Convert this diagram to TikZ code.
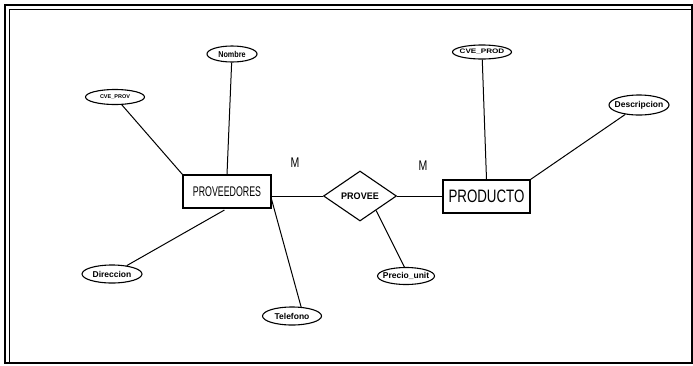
\documentclass[tikz,border=0pt]{standalone}
\usepackage{fontspec}
\setmainfont{Liberation Sans}
\usetikzlibrary{shapes.geometric}
% squeeze or widen a text horizontally
\newcommand\hsq[2]{\scalebox{#1}[1]{#2}}
% attribute label with no width of its own, so the ellipse size is set by its style
\newcommand\attlabel[3]{\makebox[0pt]{\fontsize{#1}{#1}\selectfont\hsq{#2}{#3}}}

\begin{document}
\begin{tikzpicture}[x=1pt,y=-1pt,
  entity/.style={draw, rectangle, inner sep=0pt, line width=1.1pt},
  attr/.style={draw, ellipse, inner sep=0pt, line width=1.1pt, font=\bfseries},
  rel/.style={draw, diamond, inner sep=0pt, line width=1.1pt, font=\bfseries},
  link/.style={line width=1pt},
  card/.style={inner sep=0pt, font=\fontsize{14}{14}\selectfont}]
\useasboundingbox (0,0) rectangle (693,365);

% page frame with a double rule on the top and left sides
\draw[line width=1.2pt] (5,5) rectangle (692,363);
\draw[line width=0.8pt] (9,363) -- (9,9) -- (692,9);

% entities
\node[entity, minimum width=88pt, minimum height=33pt] (prov) at (227,191.5)
  {\fontsize{14}{14}\selectfont\hsq{0.63}{PROVEEDORES}};
\node[entity, minimum width=87pt, minimum height=33pt] (prod) at (486.5,196.5)
  {\fontsize{18}{18}\selectfont\hsq{0.74}{PRODUCTO}};

% relationship
\node[rel, minimum width=73pt, minimum height=50pt, aspect=1.46] (provee) at (360,196)
  {\fontsize{9.5}{9.5}\selectfont\hsq{0.95}{PROVEE}};

% attributes
\node[attr, minimum width=50pt, minimum height=16pt] (nombre) at (232,54)
  {\attlabel{8.5}{0.85}{Nombre}};
\node[attr, minimum width=59pt, minimum height=15pt] (cveprov) at (115,97)
  {\attlabel{5.5}{1}{CVE\_PROV}};
\node[attr, minimum width=60pt, minimum height=18pt] (direccion) at (112,274)
  {\attlabel{8.5}{1}{Direccion}};
\node[attr, minimum width=59pt, minimum height=18pt] (telefono) at (292,316)
  {\attlabel{8.5}{1}{Telefono}};
\node[attr, minimum width=57pt, minimum height=17pt] (precio) at (406,276)
  {\attlabel{8.5}{1}{Precio\_unit}};
\node[attr, minimum width=59pt, minimum height=14pt] (cveprod) at (482,52)
  {\attlabel{6.5}{1.25}{CVE\_PROD}};
\node[attr, minimum width=60pt, minimum height=20pt] (descripcion) at (639,105)
  {\attlabel{8.5}{1}{Descripcion}};

% cardinalities
\node[card] (m1) at (295,163) {\hsq{0.75}{M}};
\node[card] (m2) at (423,166) {\hsq{0.75}{M}};

% connectors
\draw[link] (cveprov) -- (prov.north west);
\draw[link] (nombre) -- (prov.north);
\draw[link, shorten >=3pt] (direccion) -- (prov.south);
\draw[link] (prov.-10) -- (telefono.45);
\draw[link] (provee.west -| prov.east) -- (provee.west);
\draw[link] (provee.east) -- (provee.east -| prod.west);
\draw[link] (provee.-42) -- (precio.100);
\draw[link] (cveprod) -- (prod.north);
\draw[link] (prod.north east) -- (descripcion);
\end{tikzpicture}
\end{document}
